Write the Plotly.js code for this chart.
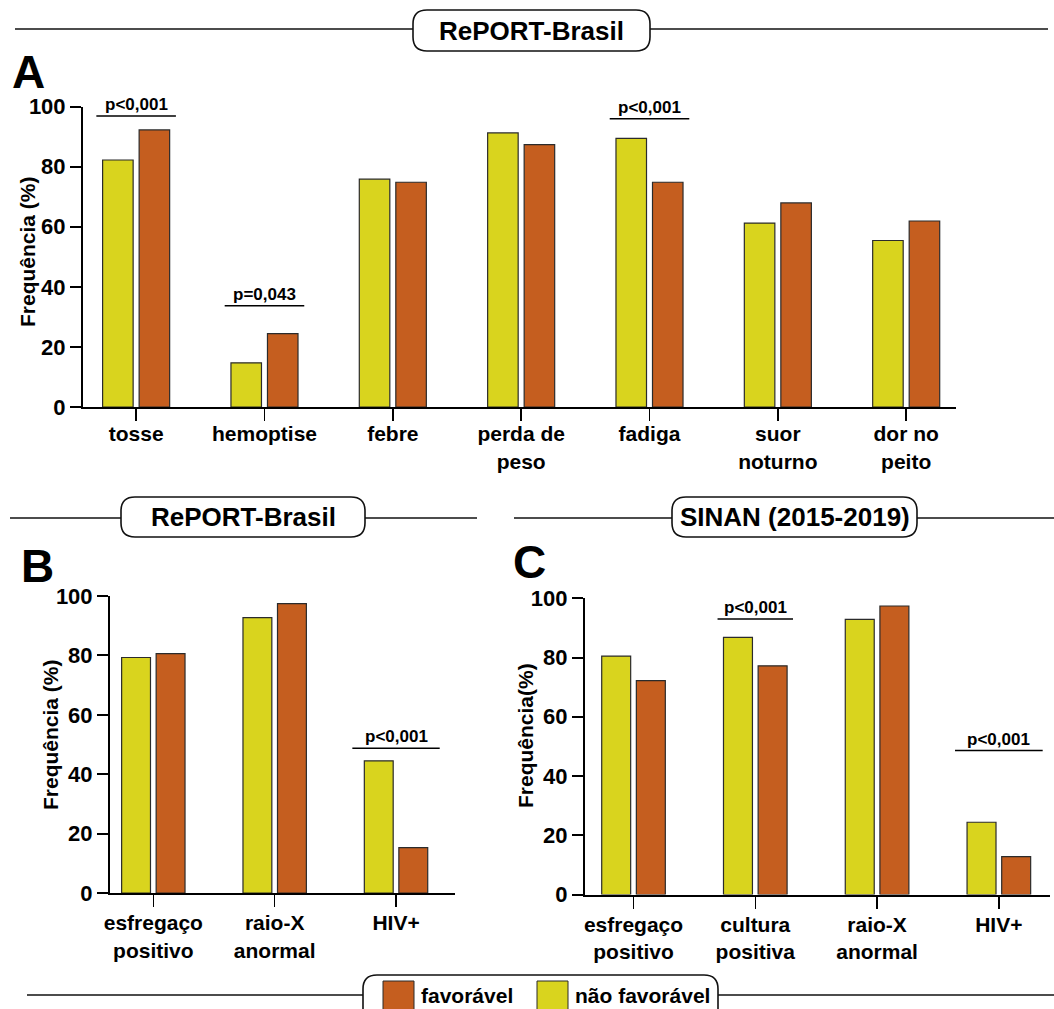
<!DOCTYPE html>
<html><head><meta charset="utf-8">
<script src="https://cdn.plot.ly/plotly-3.0.1.min.js"></script>
<style>html,body{margin:0;padding:0;background:#fff}</style>
</head><body><div id="chart" style="width:1054px;height:1009px"></div>
<script>
// ---------- DATA ----------
const categoriesA = ['tosse', 'hemoptise', 'febre', 'perda de<br>peso', 'fadiga', 'suor<br>noturno', 'dor no<br>peito'];
const naoFavA = [82.2, 14.7, 75.8, 91.2, 89.4, 61.2, 55.4];
const favA    = [92.2, 24.4, 74.8, 87.3, 74.8, 67.9, 61.9];
const pA      = ['p<0,001', 'p=0,043', '', '', 'p<0,001', '', ''];

const categoriesB = ['esfregaço<br>positivo', 'raio-X<br>anormal', 'HIV+'];
const naoFavB = [79.3, 92.7, 44.5];
const favB    = [80.6, 97.4, 15.3];
const pB      = ['', '', 'p<0,001'];

const categoriesC = ['esfregaço<br>positivo', 'cultura<br>positiva', 'raio-X<br>anormal', 'HIV+'];
const naoFavC = [80.5, 86.8, 92.9, 24.4];
const favC    = [72.2, 77.2, 97.4, 12.8];
const pC      = ['', 'p<0,001', '', 'p<0,001'];

const yTicks = [0, 20, 40, 60, 80, 100];
const seriesNames = ['não favorável', 'favorável'];
const headerA = 'RePORT-Brasil', headerB = 'RePORT-Brasil', headerC = 'SINAN (2015-2019)';
const yTitleAB = 'Frequência (%)', yTitleC = 'Frequência(%)';

// ---------- LAYOUT HELPERS ----------
const W = 1054, H = 1009;
const px = x => x / W, py = y => 1 - y / H;
const YELLOW = '#D9D41E', ORANGE = '#C55E1F', OUTLINE = '#2b2b2b';
const FONT = 'Arial, "Liberation Sans", sans-serif';
// bracket heights (axis units) and half widths (category units), layout only
const bracketA = {0: [96.8, 0.31], 1: [33.7, 0.31], 4: [95.9, 0.31]};
const bracketB = {2: [48.7, 0.36]};
const bracketC = {1: [93.0, 0.31], 3: [48.6, 0.36]};

function barPair(cats, nf, f, xa, ya) {
  return [
    {type: 'bar', x: cats, y: nf, name: seriesNames[0], xaxis: xa, yaxis: ya,
     marker: {color: YELLOW, line: {color: OUTLINE, width: 1.2}}, showlegend: false},
    {type: 'bar', x: cats, y: f, name: seriesNames[1], xaxis: xa, yaxis: ya,
     marker: {color: ORANGE, line: {color: OUTLINE, width: 1.2}}, showlegend: false}
  ];
}

function xAxis(domain, range, anchor, standoff) {
  return {domain, range, anchor, type: 'category', tickangle: 0,
    showline: true, linecolor: '#000', linewidth: 2,
    ticks: 'outside', ticklen: 12, tickwidth: 1.5, tickcolor: '#000',
    ticklabelstandoff: standoff,
    tickfont: {family: FONT, size: 21, color: '#000', weight: 'bold'},
    showgrid: false, zeroline: false, fixedrange: true};
}
function yAxis(domain, anchor) {
  return {domain, anchor, range: [0, 100], tickvals: yTicks, ticktext: yTicks.map(String),
    showline: true, linecolor: '#000', linewidth: 2,
    ticks: 'outside', ticklen: 11, tickwidth: 2, tickcolor: '#000',
    tickfont: {family: FONT, size: 22, color: '#000', weight: 'bold'},
    showgrid: false, zeroline: false, fixedrange: true};
}

const shapes = [], annotations = [];

function brackets(labels, br, xa, ya) {
  labels.forEach((lab, i) => {
    if (!lab) return;
    const [yv, hw] = br[i];
    shapes.push({type: 'line', xref: xa, yref: ya, x0: i - hw, x1: i + hw, y0: yv, y1: yv,
      line: {color: '#000', width: 1.5}});
    annotations.push({xref: xa, yref: ya, x: i, y: yv, yanchor: 'bottom', yshift: 0,
      text: lab, showarrow: false, font: {family: FONT, size: 17, color: '#000', weight: 'bold'}});
  });
}

function yTitle(text, x, y) {
  annotations.push({xref: 'paper', yref: 'paper', x: px(x), y: py(y), text, textangle: -90,
    showarrow: false, xanchor: 'center', yanchor: 'middle',
    font: {family: FONT, size: 21, color: '#000', weight: 'bold'}});
}

function roundBox(x0, x1, y0, y1, r) {
  const P = (x, y) => px(x) + ',' + py(y);
  return 'M' + P(x0 + r, y0) + ' L' + P(x1 - r, y0) + ' Q' + P(x1, y0) + ' ' + P(x1, y0 + r) +
    ' L' + P(x1, y1 - r) + ' Q' + P(x1, y1) + ' ' + P(x1 - r, y1) +
    ' L' + P(x0 + r, y1) + ' Q' + P(x0, y1) + ' ' + P(x0, y1 - r) +
    ' L' + P(x0, y0 + r) + ' Q' + P(x0, y0) + ' ' + P(x0 + r, y0) + ' Z';
}

function header(text, bx0, bx1, by0, by1, lx0, lx1, ly) {
  shapes.push({type: 'line', xref: 'paper', yref: 'paper', x0: px(lx0), x1: px(lx1), y0: py(ly), y1: py(ly),
    line: {color: '#111', width: 1.5}, layer: 'above'});
  shapes.push({type: 'path', xref: 'paper', yref: 'paper', path: roundBox(bx0, bx1, by0, by1, 14),
    fillcolor: '#fff', line: {color: '#111', width: 1.6}, layer: 'above'});
  if (text) annotations.push({xref: 'paper', yref: 'paper', x: px((bx0 + bx1) / 2), y: py((by0 + by1) / 2),
    text, showarrow: false, xanchor: 'center', yanchor: 'middle',
    font: {family: FONT, size: 26, color: '#000', weight: 'bold'}});
}

function letter(t, x, y) {
  annotations.push({xref: 'paper', yref: 'paper', x: px(x), y: py(y), text: t, showarrow: false,
    xanchor: 'center', yanchor: 'middle', borderpad: 0,
    font: {family: FONT, size: 46, color: '#000', weight: 'bold'}});
}

// ---------- BUILD ----------
const data = [
  ...barPair(categoriesA, naoFavA, favA, 'x', 'y'),
  ...barPair(categoriesB, naoFavB, favB, 'x2', 'y2'),
  ...barPair(categoriesC, naoFavC, favC, 'x3', 'y3')
];

brackets(pA, bracketA, 'x', 'y');
brackets(pB, bracketB, 'x2', 'y2');
brackets(pC, bracketC, 'x3', 'y3');

yTitle(yTitleAB, 27, 252);
yTitle(yTitleAB, 50, 735);
yTitle(yTitleC, 525, 736);

header(headerA, 413, 650, 10, 51, 15, 1048, 29);
header(headerB, 121, 365, 497, 537, 10, 477, 518);
header(headerC, 672, 917, 497, 537, 514, 1054, 518);
letter('A', 28, 72);
letter('B', 37, 566);
letter('C', 529, 562);

// legend (drawn)
header('', 363, 718, 975, 1030, 27, 1054, 995);
shapes.push({type: 'rect', xref: 'paper', yref: 'paper', x0: px(383), x1: px(414), y0: py(981), y1: py(1012),
  fillcolor: ORANGE, line: {color: OUTLINE, width: 1}, layer: 'above'});
shapes.push({type: 'rect', xref: 'paper', yref: 'paper', x0: px(537), x1: px(568), y0: py(981), y1: py(1012),
  fillcolor: YELLOW, line: {color: OUTLINE, width: 1}, layer: 'above'});
annotations.push({xref: 'paper', yref: 'paper', x: px(419), y: py(995), xanchor: 'left', yanchor: 'middle',
  text: seriesNames[1], showarrow: false, font: {family: FONT, size: 21, color: '#000', weight: 'bold'}});
annotations.push({xref: 'paper', yref: 'paper', x: px(573), y: py(995), xanchor: 'left', yanchor: 'middle',
  text: seriesNames[0], showarrow: false, font: {family: FONT, size: 21, color: '#000', weight: 'bold'}});

const layout = {
  width: W, height: H, margin: {l: 0, r: 0, t: 0, b: 0},
  paper_bgcolor: '#fff', plot_bgcolor: '#fff',
  barmode: 'group', bargap: 0.431, bargroupgap: 0.164,
  showlegend: false,
  font: {family: FONT, color: '#000'},
  xaxis:  xAxis([px(83), px(955.6)], [-0.414, 6.385], 'y', -5),
  yaxis:  yAxis([py(407), py(106.5)], 'x'),
  xaxis2: xAxis([px(110), px(455)], [-0.357, 2.486], 'y2', -2),
  yaxis2: yAxis([py(893), py(596)], 'x2'),
  xaxis3: xAxis([px(584.8), px(1050)], [-0.40, 3.42], 'y3', -2),
  yaxis3: yAxis([py(894.5), py(598.3)], 'x3'),
  shapes, annotations
};

Plotly.newPlot('chart', data, layout, {displayModeBar: false, staticPlot: true});
</script></body></html>
